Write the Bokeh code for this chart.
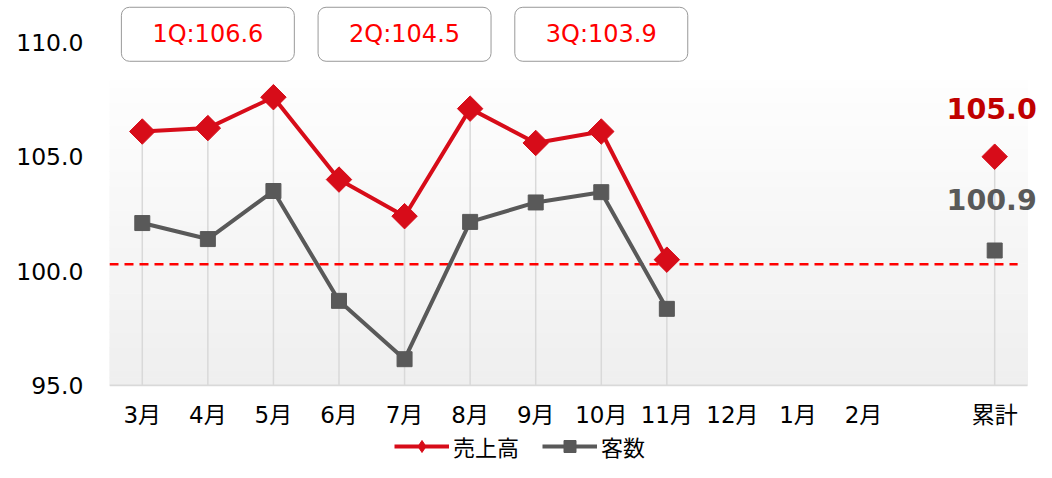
import math
import numpy as np
from bokeh.plotting import figure
from bokeh.layouts import column
from bokeh.models import Range1d, FixedTicker, Label, Legend, LegendItem
from bokeh.core.properties import value
from bokeh.embed import file_html
from bokeh.resources import INLINE

# ---------------- data ----------------
months = ["3月", "4月", "5月", "6月", "7月", "8月", "9月", "10月", "11月", "12月", "1月", "2月"]
total_label = "累計"
sales = [106.1, 106.25, 107.6, 104.0, 102.4, 107.1, 105.6, 106.1, 100.5]          # 売上高
customers = [102.1, 101.4, 103.5, 98.7, 96.15, 102.15, 103.0, 103.45, 98.35]      # 客数
sales_total = 105.0
customers_total = 100.9
quarter_labels = ["1Q:106.6", "2Q:104.5", "3Q:103.9"]
quarter_mid_months = ["4月", "7月", "10月"]
ref_value = 100.3
y_ticks = [95, 100, 105, 110]
series_names = ["売上高", "客数"]

# ---------------- style ----------------
RED = "#D70C19"
GRAY = "#595959"
DROP = "#D9D9D9"
NUM_FONT = "DejaVu Sans"
JP_FONT = "DejaVu Sans, Noto Sans CJK JP"
W = 1036
H_MAIN, H_LEG = 430, 32
FRAME_LEFT = 109
FRAME_BOTTOM = 388            # pixel row of the frame bottom
PX_PER_UNIT = 23.0
SLOT_PX = 65.57
Y_MIN_TICK, Y_MAX_TICK = 95, 110
AREA_TOP = 108.35             # top of shaded plot area
LEGEND_X = 285

x_month = list(range(len(sales)))
total_pos = len(months) + 1
x_all = x_month + [total_pos]
area_lo, area_hi = -0.5, total_pos + 0.5

y_lo = Y_MIN_TICK - 1.0 / PX_PER_UNIT
y_hi = y_lo + FRAME_BOTTOM / PX_PER_UNIT
x_hi = area_lo + (W - FRAME_LEFT) / SLOT_PX

p = figure(width=W, height=H_MAIN, x_range=Range1d(area_lo, x_hi), y_range=Range1d(y_lo, y_hi),
           output_backend="svg", toolbar_location=None,
           min_border_left=FRAME_LEFT, min_border_right=0, min_border_top=0,
           min_border_bottom=H_MAIN - FRAME_BOTTOM)
p.outline_line_color = None
p.background_fill_color = "white"
p.border_fill_color = "white"
p.xgrid.visible = False
p.ygrid.visible = False

# gradient plot area (decoration)
edges = np.linspace(Y_MIN_TICK, AREA_TOP, 41)
t = (edges[:-1] - Y_MIN_TICK) / (AREA_TOP - Y_MIN_TICK)
shades = [int(round(239 + tt * (254 - 239))) for tt in t]
band_colors = ["#%02x%02x%02x" % (s, s, s) for s in shades]
p.quad(left=area_lo, right=area_hi, bottom=edges[:-1], top=edges[1:], fill_color=band_colors,
       line_color=band_colors, line_width=1)

# category axis baseline
p.segment(x0=[area_lo], y0=[Y_MIN_TICK], x1=[area_hi], y1=[Y_MIN_TICK], line_color=DROP, line_width=2)

# drop lines
p.segment(x0=x_all, y0=[Y_MIN_TICK] * len(x_all), x1=x_all, y1=sales + [sales_total],
          line_color=DROP, line_width=1.5)

# reference line
p.segment(x0=[area_lo], y0=[ref_value], x1=[area_hi - 0.15], y1=[ref_value],
          line_color="#FF0000", line_width=2.5, line_dash="9 6")

# series
p.line(x_month, customers, line_color=GRAY, line_width=4)
p.scatter(x_all, customers + [customers_total], marker="square", size=15,
          fill_color=GRAY, line_color=GRAY)
p.line(x_month, sales, line_color=RED, line_width=4)
p.scatter(x_all, sales + [sales_total], marker="square", angle=math.pi / 4, size=18,
          fill_color=RED, line_color=RED)

# total labels
p.text(x=[total_pos], y=[sales_total], text=[f"{sales_total:.1f}"], x_offset=-3, y_offset=-48,
       text_align="center", text_baseline="middle", text_font=value(NUM_FONT),
       text_font_style="bold", text_font_size="28.5px", text_color="#C00000")
p.text(x=[total_pos], y=[customers_total], text=[f"{customers_total:.1f}"], x_offset=-3, y_offset=-51,
       text_align="center", text_baseline="middle", text_font=value(NUM_FONT),
       text_font_style="bold", text_font_size="28.5px", text_color=GRAY)

# quarter boxes
for lab, mm in zip(quarter_labels, quarter_mid_months):
    p.add_layout(Label(x=months.index(mm), y=Y_MAX_TICK + 0.35, text=lab, text_align="center",
                       text_baseline="middle", text_font=NUM_FONT, text_font_size="24px",
                       text_color="#FF0000", background_fill_color="white",
                       border_line_color="#999999", border_line_width=1, border_radius=8,
                       padding=(31, 13)))

# axes
p.xaxis.ticker = FixedTicker(ticks=list(range(len(months))) + [total_pos])
overrides = {i: m for i, m in enumerate(months)}
overrides[total_pos] = total_label
p.xaxis.major_label_overrides = overrides
p.xaxis.axis_line_color = None
p.xaxis.major_tick_line_color = None
p.xaxis.minor_tick_line_color = None
p.xaxis.major_tick_out = 0
p.xaxis.major_tick_in = 0
p.xaxis.major_label_standoff = 15
p.xaxis.major_label_text_font = JP_FONT
p.xaxis.major_label_text_font_size = "23px"
p.xaxis.major_label_text_color = "#000000"

p.yaxis.ticker = FixedTicker(ticks=y_ticks)
p.yaxis.major_label_overrides = {v: f"{v:.1f}" for v in y_ticks}
p.yaxis.axis_line_color = None
p.yaxis.major_tick_line_color = None
p.yaxis.minor_tick_line_color = None
p.yaxis.major_tick_out = 0
p.yaxis.major_tick_in = 0
p.yaxis.major_label_standoff = 26
p.yaxis.major_label_text_font = NUM_FONT
p.yaxis.major_label_text_font_size = "23.5px"
p.yaxis.major_label_text_color = "#000000"

# ---------------- legend strip ----------------
# the legend renderers hold the same series but lie outside this strip's ranges
pl = figure(width=W, height=H_LEG, x_axis_type=None, y_axis_type=None,
            x_range=Range1d(-100, -99), y_range=Range1d(-100, -99),
            output_backend="svg", toolbar_location=None,
            min_border_left=0, min_border_right=0, min_border_top=0, min_border_bottom=0)
pl.outline_line_color = None
pl.xgrid.visible = False
pl.ygrid.visible = False
leg_sales_line = pl.line(x_month, sales, line_color=RED, line_width=4)
leg_sales_pt = pl.scatter(x_month, sales, marker="diamond", size=12,
                          fill_color=RED, line_color=RED)
leg_cust_line = pl.line(x_month, customers, line_color=GRAY, line_width=4)
leg_cust_pt = pl.scatter(x_month, customers, marker="square", size=12, fill_color=GRAY, line_color=GRAY)
legend = Legend(items=[LegendItem(label=series_names[0], renderers=[leg_sales_line, leg_sales_pt]),
                       LegendItem(label=series_names[1], renderers=[leg_cust_line, leg_cust_pt])],
                location=(LEGEND_X, 0), orientation="horizontal",
                glyph_width=55, glyph_height=30, label_standoff=4, spacing=23,
                padding=0, margin=0, border_line_color=None, background_fill_alpha=0,
                label_text_font="Noto Sans CJK JP", label_text_font_size="22px",
                label_text_color="#000000")
pl.add_layout(legend)

layout = column(p, pl, spacing=0)
open("out.html", "w").write(file_html(layout, INLINE))
